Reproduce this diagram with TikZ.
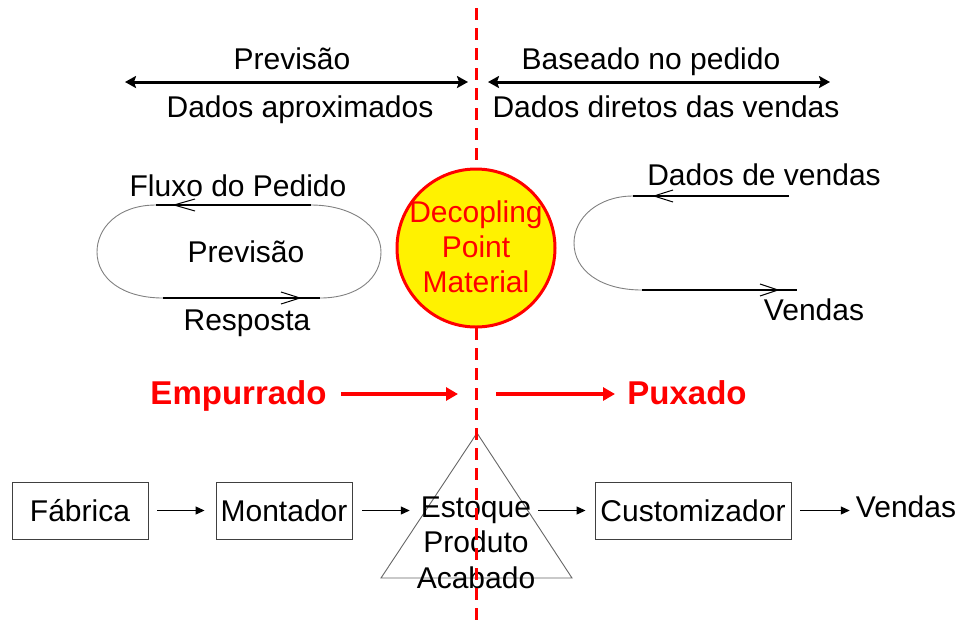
\documentclass[tikz,border=0pt]{standalone}
\usepackage{fontspec}
\setmainfont{Liberation Sans}
\usetikzlibrary{arrows.meta}
\begin{document}
\begin{tikzpicture}[x=1pt,y=-1pt,
  txt/.style={font=\fontsize{30}{35}\selectfont, inner sep=0pt, anchor=base},
  redtxt/.style={font=\fontsize{33}{38}\selectfont\bfseries, text=red, inner sep=0pt, anchor=base},
  dptxt/.style={font=\fontsize{30}{35}\selectfont, text=red, inner sep=0pt, anchor=base},
  box/.style={draw=black!75, line width=0.9pt, font=\fontsize{30}{35}\selectfont, inner sep=0pt, minimum height=57pt, text height=21.5pt, text depth=0pt},
  flow/.style={-{Triangle[length=9pt,width=8pt]}, line width=1.1pt},
  span/.style={{Stealth[length=11pt,width=12pt,inset=2pt]}-{Stealth[length=11pt,width=12pt,inset=2pt]}, line width=3pt},
  redarr/.style={-{Triangle[length=12pt,width=13pt]}, red, line width=3.5pt},
  loopcurve/.style={draw=black!50, line width=0.9pt},
  loopline/.style={line width=1.5pt},
  openhead/.style={line width=1pt},
  divider/.style={red, line width=3pt, dash pattern=on 12pt off 8pt, dash phase=12pt}
]
\useasboundingbox (0,0) rectangle (959,625);

% top spans
\coordinate (la) at (125,82);
\coordinate (lb) at (468,82);
\coordinate (ra) at (488,82);
\coordinate (rb) at (830,82);
\draw[span] (la) -- (lb);
\draw[span] (ra) -- (rb);
\node[txt] (prev1) at (292,69) {Previsão};
\node[txt] (aprox) at (300,117) {Dados aproximados};
\node[txt] (baseado) at (651,69) {Baseado no pedido};
\node[txt] (diretos) at (666,117) {Dados diretos das vendas};

% left loop
\coordinate (lt1) at (311,205);
\coordinate (lt2) at (156,205);
\coordinate (lbo1) at (163,298);
\coordinate (lbo2) at (320,298);
\draw[loopcurve] (lt2) .. controls (118,205) and (97,228) .. (97,252)
  .. controls (97,278) and (122,298) .. (lbo1);
\draw[loopcurve] (lbo2) .. controls (358,298) and (381,278) .. (381,252)
  .. controls (381,226) and (352,205) .. (lt1);
\draw[loopline] (lt1) -- (lt2);
\draw[loopline] (lbo1) -- (lbo2);
\draw[openhead] (195,199) -- (174,205) -- (195,211);
\draw[openhead] (281,292) -- (300,298) -- (281,304);
\node[txt] (fluxo) at (238,196) {Fluxo do Pedido};
\node[txt] (prev2) at (246,262) {Previsão};
\node[txt] (resp) at (247,330) {Resposta};

% right C
\coordinate (rt1) at (789,196);
\coordinate (rt2) at (633,196);
\coordinate (rbo1) at (642,290);
\coordinate (rbo2) at (797,290);
\draw[loopcurve] (rt2) .. controls (598,196) and (574,218) .. (574,243)
  .. controls (574,270) and (600,290) .. (rbo1);
\draw[loopline] (rt1) -- (rt2);
\draw[loopline] (rbo1) -- (rbo2);
\draw[openhead] (673,190) -- (654,196) -- (673,202);
\draw[openhead] (760,284) -- (778,290) -- (760,296);
\node[txt] (dvend) at (764,185) {Dados de vendas};
\node[txt] (vend1) at (814,320) {Vendas};

% bottom chain
\node[box, minimum width=136pt] (fab) at (80,510.5) {Fábrica};
\node[box, minimum width=136pt] (mon) at (284,510.5) {Montador};
\node[box, minimum width=196pt] (cus) at (693,510.5) {Customizador};
\coordinate (tA) at (477,433);
\coordinate (tB) at (381,578);
\coordinate (tC) at (572,578);
\draw[draw=black!60, line width=0.9pt] (tA) -- (tB) -- (tC) -- cycle;
\node[txt] (est) at (476,517) {Estoque};
\node[txt] (prod) at (476,552.5) {Produto};
\node[txt] (acab) at (476,588) {Acabado};
\node[txt] (vend2) at (906,517) {Vendas};
\draw[flow, shorten <=9pt, shorten >=11pt] (fab.east) -- (mon.west);
\draw[flow, shorten <=10pt, shorten >=11pt] (mon.east) -- (mon.east -| est.west);
\draw[flow, shorten <=7pt, shorten >=9pt] (cus.west -| est.east) -- (cus.west);
\draw[flow, shorten <=9pt, shorten >=6pt] (cus.east) -- (cus.east -| vend2.west);

% push / pull
\node[redtxt] (push) at (238.5,404) {Empurrado};
\node[redtxt] (pull) at (687,404) {Puxado};
\coordinate (pa) at (341,394);
\coordinate (pb) at (458,394);
\coordinate (qa) at (496,394);
\coordinate (qb) at (615,394);
\draw[redarr] (pa) -- (pb);
\draw[redarr] (qa) -- (qb);

% divider
\coordinate (vt) at (476,0);
\coordinate (vb) at (476,625);
\draw[divider] (vt) -- (vb);

% decoupling point
\node[circle, draw=red, line width=3pt, fill=yellow, minimum size=158pt, inner sep=0pt] (dp) at (476,248) {};
\node[dptxt] (dp1) at (476,222) {Decopling};
\node[dptxt] (dp2) at (476,257) {Point};
\node[dptxt] (dp3) at (476,292) {Material};
\end{tikzpicture}
\end{document}
